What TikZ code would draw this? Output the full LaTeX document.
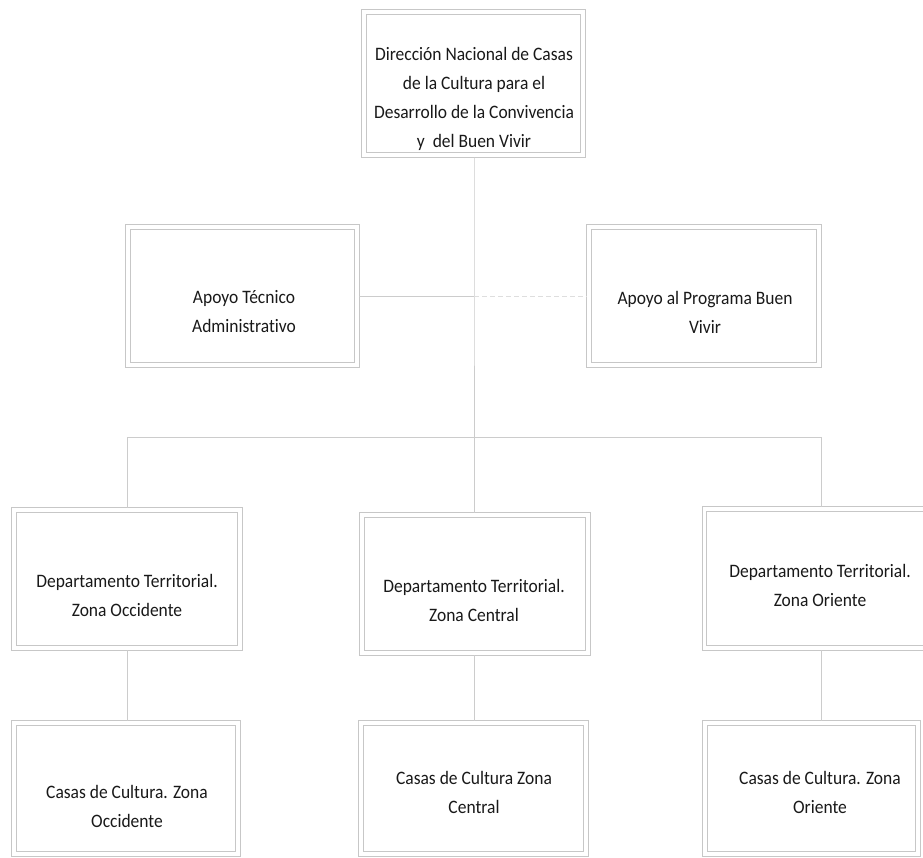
\documentclass[tikz,border=0pt]{standalone}
\usepackage{fontspec}
\setmainfont{Carlito}[FakeStretch=0.92, Ligatures=CommonOff]
\begin{document}
\begin{tikzpicture}[x=1pt,y=-1pt,
  box/.style={draw=black!22, double=white, double distance=3.5pt, line width=0.8pt,
              rectangle, inner sep=0pt, outer sep=2.2pt},
  txt/.style={align=center, text=black!90, font=\fontsize{19}{29}\selectfont, inner sep=0pt},
  conn/.style={draw=black!20, line width=0.9pt},
  faint/.style={draw=black!13, line width=0.9pt, dash pattern=on 5pt off 3pt}]
\useasboundingbox (0,0) rectangle (923,857);
\clip (0,0) rectangle (923,857);
\fill[white] (0,0) rectangle (923,857);

% boxes
\node[box, minimum width=219pt, minimum height=143pt] (top) at (473.5,83.5) {};
\node[box, minimum width=229pt, minimum height=138pt] (ata) at (242.5,296) {};
\node[box, minimum width=230pt, minimum height=138pt] (apb) at (704,296) {};
\node[box, minimum width=226pt, minimum height=138pt] (dl) at (127,579) {};
\node[box, minimum width=226pt, minimum height=138pt] (dc) at (475,584) {};
\node[box, minimum width=233pt, minimum height=139pt] (dr) at (821,578.5) {};
\node[box, minimum width=224pt, minimum height=131pt] (cl) at (126,788.5) {};
\node[box, minimum width=225pt, minimum height=131pt] (cc) at (473.5,788.5) {};
\node[box, minimum width=213pt, minimum height=131pt] (cr) at (811.5,788.5) {};

% texts
\node[txt] (ttop) at (474,99) {Dirección Nacional de Casas\\de la Cultura para el\\Desarrollo de la Convivencia\\y\ \ del Buen Vivir};
\node[txt] (tata) at (244,312) {Apoyo Técnico\\Administrativo};
\node[txt] (tapb) at (705,312) {Apoyo al Programa Buen\\Vivir};
\node[txt] (tdl) at (127,595) {Departamento Territorial.\\Zona Occidente};
\node[txt] (tdc) at (474,600) {Departamento Territorial.\\Zona Central};
\node[txt] (tdr) at (820,585) {Departamento Territorial.\\Zona Oriente};
\node[txt] (tcl) at (127,806) {Casas de Cultura. Zona\\Occidente};
\node[txt] (tcc) at (474,792) {Casas de Cultura Zona\\Central};
\node[txt] (tcr) at (820,792) {Casas de Cultura. Zona\\Oriente};

% connector junctions
\coordinate (jm) at (474,296);
\coordinate (jb) at (474,437);
\coordinate (jl) at (127,437);
\coordinate (jr) at (821,437);

\draw[conn] (top.south -| jb) -- (jm) -- (jb);
\draw[conn] (ata.east |- jm) -- (jm);
\draw[faint] (jm) -- (apb.west |- jm);
\draw[conn] (jl) -- (jr);
\draw[conn] (jl) -- (dl.north);
\draw[conn] (jb) -- (dc.north -| jb);
\draw[conn] (jr) -- (dr.north);
\draw[conn] (dl.south) -- (cl.north -| dl.south);
\draw[conn] (dc.south -| jb) -- (cc.north -| jb);
\draw[conn] (dr.south -| jr) -- (cr.north -| jr);
\end{tikzpicture}
\end{document}
